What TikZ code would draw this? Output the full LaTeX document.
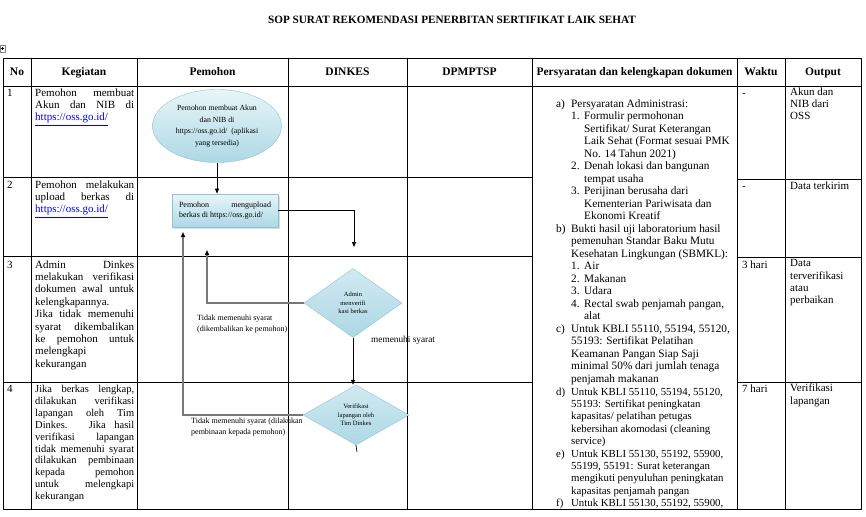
\documentclass[tikz,border=0pt]{standalone}
\usepackage{fontspec}
\setmainfont{Liberation Serif}
\usetikzlibrary{shapes.geometric,arrows.meta,shadows,positioning}
\tolerance=10000
\hbadness=10000

\definecolor{boxline}{HTML}{8FC3D3}
\definecolor{boxtop}{HTML}{E8F5F9}
\definecolor{boxbot}{HTML}{ADD8E5}
\definecolor{linkblue}{HTML}{0000EE}
\definecolor{backline}{HTML}{777777}

\newcommand{\osslink}{\textcolor{linkblue}{\underline{https://oss.go.id/}}}
\newcommand{\itm}[1]{\makebox[13pt][l]{#1}}
\newcommand{\ind}{\hspace*{13pt}}

\tikzset{
  rule/.style={line width=0.9pt},
  head/.style={anchor=base,font=\bfseries\fontsize{11.5}{13}\selectfont},
  cellbox/.style={anchor=north west,inner sep=0pt,align=left,
    font=\fontsize{11}{12.4}\selectfont,execute at begin node=\strut},
  kegiatan/.style={anchor=north west,inner sep=0pt,text width=99pt,align=justify,
    font=\fontsize{11}{12.4}\selectfont,execute at begin node=\strut},
  startbox/.style={ellipse,draw=boxline,top color=boxtop,bottom color=boxbot,
    minimum width=129pt,minimum height=73pt,inner sep=0pt,align=center,
    font=\fontsize{7.8}{11.5}\selectfont},
  taskbox/.style={rectangle,draw=boxline,line width=0.8pt,top color=boxtop,bottom color=boxbot,
    drop shadow={shadow xshift=2pt,shadow yshift=-2pt,fill=gray!55},
    minimum width=106pt,minimum height=33pt,text width=92pt,align=justify,
    inner sep=0pt,font=\fontsize{8}{9.5}\selectfont},
  checkbox/.style={diamond,draw=boxline,top color=boxtop!60!boxbot,bottom color=boxbot,
    inner sep=0pt,align=center,font=\fontsize{6.5}{8.5}\selectfont},
  flow/.style={-{Triangle[length=5pt,width=4pt]},line width=0.7pt},
  back/.style={-{Triangle[length=5pt,width=4pt,color=black]},draw=backline,line width=1.6pt},
  note/.style={anchor=north west,inner sep=0pt,align=left,font=\fontsize{8}{11}\selectfont},
}

\begin{document}
\begin{tikzpicture}[x=1pt,y=-1pt]
\useasboundingbox (0,0) rectangle (866,516);

% title
\node[anchor=base,font=\bfseries\fontsize{11.2}{13}\selectfont] (title) at (452,24)
  {SOP SURAT REKOMENDASI PENERBITAN SERTIFIKAT LAIK SEHAT};

% table move handle
\draw[gray,line width=0.4pt] (0,45) rectangle (5,52);
\draw[line width=0.4pt] (1,48.5) -- (4,48.5) (2.5,47) -- (2.5,50);

% table frame
\draw[rule] (3,58) rectangle (861,509);
\draw[rule] (3,86) -- (861,86);
\draw[rule] (3,177) -- (532,177);
\draw[rule] (3,256) -- (532,256);
\draw[rule] (3,382) -- (532,382);
\draw[rule] (737,179) -- (861,179);
\draw[rule] (737,257) -- (861,257);
\draw[rule] (737,382) -- (861,382);
\draw[rule] (31,58) -- (31,509);
\draw[rule] (137,58) -- (137,509);
\draw[rule] (288,58) -- (288,509);
\draw[rule] (407,58) -- (407,509);
\draw[rule] (532,58) -- (532,509);
\draw[rule] (737,58) -- (737,509);
\draw[rule] (785,58) -- (785,509);

% header
\node[head] (hno) at (17,76) {No};
\node[head] (hkeg) at (84,76) {Kegiatan};
\node[head] (hpem) at (212.5,76) {Pemohon};
\node[head] (hdin) at (347.5,76) {DINKES};
\node[head] (hdpm) at (469.5,76) {DPMPTSP};
\node[head] (hsya) at (634.5,76) {Persyaratan dan kelengkapan dokumen};
\node[head] (hwak) at (761,76) {Waktu};
\node[head] (hout) at (823,76) {Output};

% no
\node[cellbox] (no1) at (7,87.3) {1};
\node[cellbox] (no2) at (7,179.3) {2};
\node[cellbox] (no3) at (7,259.3) {3};
\node[cellbox] (no4) at (7,384) {4};

% kegiatan
\node[kegiatan] (keg1) at (35,87.3)
  {Pemohon membuat\linebreak Akun dan NIB di\linebreak \osslink};
\node[kegiatan] (keg2) at (35,179.3)
  {Pemohon melakukan\linebreak upload berkas di\linebreak \osslink};
\node[kegiatan] (keg3) at (35,259.3)
  {Admin Dinkes\linebreak melakukan verifikasi\linebreak dokumen awal untuk\linebreak
   kelengkapannya.\newline Jika tidak memenuhi\linebreak syarat dikembalikan\linebreak
   ke pemohon untuk\linebreak melengkapi\newline kekurangan};
\node[kegiatan,font=\fontsize{10.5}{11.9}\selectfont] (keg4) at (35,384)
  {Jika berkas lengkap,\linebreak dilakukan verifikasi\linebreak lapangan oleh Tim\linebreak
   Dinkes. Jika hasil\linebreak verifikasi lapangan\linebreak tidak memenuhi syarat\linebreak
   dilakukan pembinaan\linebreak kepada pemohon\linebreak untuk melengkapi\linebreak kekurangan};

% flow
\node[startbox] (akun) at (217,126)
  {Pemohon membuat Akun\\dan NIB di\\https://oss.go.id/~~(aplikasi\\yang tersedia)};
\node[taskbox] (upload) at (225,210.5)
  {Pemohon mengupload\linebreak berkas di https://oss.go.id/};
\node[checkbox,minimum width=98pt,minimum height=69pt] (verif) at (353,303)
  {Admin\\menverifi\\kasi berkas};
\node[checkbox,minimum width=106pt,minimum height=60pt] (lapangan) at (356,415)
  {Verifikasi\\lapangan oleh\\Tim Dinkes};
\coordinate (kedinkes) at (354,247);
\coordinate (balik1) at (207,250);
\coordinate (balik2) at (183,232);
\coordinate (ekor) at (357,452);

\draw[flow] (akun.south) -- (akun.south |- upload.north);
\draw[flow] (upload.east) -| (kedinkes);
\draw[back] (verif.west) -| (balik1);
\draw[flow] (verif.south) -- (verif.south |- lapangan.north);
\draw[back] (lapangan.west) -| (balik2);
\draw[line width=0.7pt] (lapangan.south) -- (ekor);

\node[note] (tolak1) at (197,315) {Tidak memenuhi syarat\\(dikembalikan ke pemohon)};
\node[note] (tolak2) at (191,418) {Tidak memenuhi syarat (dilakukan\\pembinaan kepada pemohon)};
\node[anchor=base west,inner sep=0pt,font=\fontsize{9.3}{11}\selectfont] (lolos) at (371,342)
  {memenuhi syarat};

% persyaratan
\begin{scope}
\clip (532,86) rectangle (737,509);
\node[anchor=north west,inner sep=0pt,font=\fontsize{11.3}{12.5}\selectfont] (syaratA) at (556,98.3) {%
\begin{tabular}{@{}p{15pt}@{}l@{}}
a) & Persyaratan Administrasi:\\
 & \itm{1.}Formulir permohonan\\
 & \ind Sertifikat/ Surat Keterangan\\
 & \ind Laik Sehat (Format sesuai PMK\\
 & \ind No. 14 Tahun 2021)\\
 & \itm{2.}Denah lokasi dan bangunan\\
 & \ind tempat usaha\\
 & \itm{3.}Perijinan berusaha dari\\
 & \ind Kementerian Pariwisata dan\\
 & \ind Ekonomi Kreatif\\
b) & Bukti hasil uji laboratorium hasil\\
 & pemenuhan Standar Baku Mutu\\
 & Kesehatan Lingkungan (SBMKL):\\
 & \itm{1.}Air\\
 & \itm{2.}Makanan\\
 & \itm{3.}Udara\\
 & \itm{4.}Rectal swab penjamah pangan,\\
 & \ind alat\\
c) & Untuk KBLI 55110, 55194, 55120,\\
 & 55193: Sertifikat Pelatihan\\
 & Keamanan Pangan Siap Saji\\
 & minimal 50\% dari jumlah tenaga\\
 & penjamah makanan
\end{tabular}};
\node[below right=0pt and 0pt of syaratA.south west,inner sep=0pt,font=\fontsize{10.8}{12.4}\selectfont] (syaratB) {%
\begin{tabular}{@{}p{15pt}@{}l@{}}
d) & Untuk KBLI 55110, 55194, 55120,\\
 & 55193: Sertifikat peningkatan\\
 & kapasitas/ pelatihan petugas\\
 & kebersihan akomodasi (cleaning\\
 & service)\\
e) & Untuk KBLI 55130, 55192, 55900,\\
 & 55199, 55191: Surat keterangan\\
 & mengikuti penyuluhan peningkatan\\
 & kapasitas penjamah pangan\\
f) & Untuk KBLI 55130, 55192, 55900,
\end{tabular}};
\end{scope}

% waktu
\node[cellbox] (wak1) at (742,87.3) {-};
\node[cellbox] (wak2) at (742,181) {-};
\node[cellbox] (wak3) at (742,259.3) {3 hari};
\node[cellbox] (wak4) at (742,384) {7 hari};

% output
\node[cellbox] (out1) at (790,87.3) {Akun dan\\NIB dari\\OSS};
\node[cellbox] (out2) at (790,181) {Data terkirim};
\node[cellbox] (out3) at (790,259.3) {Data\\terverifikasi\\atau\\perbaikan};
\node[cellbox] (out4) at (790,384) {Verifikasi\\lapangan};
\end{tikzpicture}
\end{document}
